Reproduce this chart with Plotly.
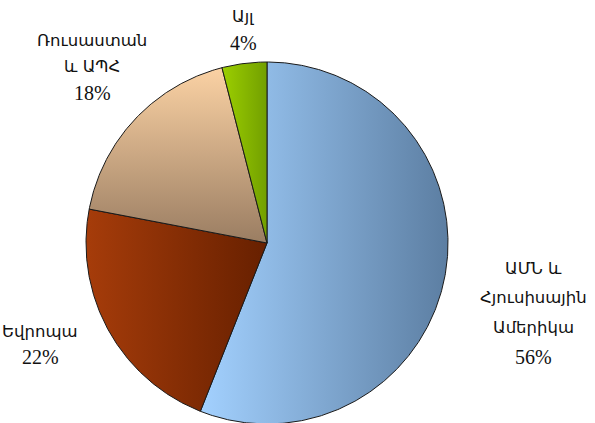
import numpy as np
import plotly.graph_objects as go

# ---- data ----
categories = ["ԱՄՆ և Հյուսիսային Ամերիկա", "Եվրոպա", "Ռուսաստան և ԱՊՀ", "Այլ"]
label_lines = [["ԱՄՆ և", "Հյուսիսային", "Ամերիկա"], ["Եվրոպա"], ["Ռուսաստան", "և ԱՊՀ"], ["Այլ"]]
values = [56, 22, 18, 4]

# ---- styles ----
gradients = [
    dict(type="horizontal", colorscale=[[0, "#A3D1FF"], [1, "#5C7EA2"]]),
    dict(type="horizontal", colorscale=[[0, "#A63C0A"], [1, "#672000"]]),
    dict(type="vertical", colorscale=[[0, "#9A7D62"], [1, "#FBD2A4"]]),
    dict(type="horizontal", colorscale=[[0, "#9CCF00"], [1, "#729F00"]]),
]
# label line pixel positions (x center, first line y, line spacing)
label_pos = [(533, 268, 29.5), (40, 331, 26), (92, 40, 26.5), (243, 17, 26)]

W, H = 595, 423
CX, CY, R = 267, 243, 181  # pixel geometry of the pie

fig = go.Figure()
total = sum(values)
start = 0.0
for cat, v, grad in zip(categories, values, gradients):
    frac = v / total
    end = start + frac * 2 * np.pi
    n = max(int(frac * 720), 8)
    th = np.linspace(start, end, n)
    xs = np.concatenate([[0], np.sin(th), [0]])
    ys = np.concatenate([[0], np.cos(th), [0]])
    fig.add_trace(go.Scatter(
        x=xs, y=ys, mode="lines", fill="toself",
        fillgradient=grad,
        line=dict(color="#1a1a1a", width=1),
        name=cat, hoverinfo="name", showlegend=False,
    ))
    start = end

font_arm = dict(family="DejaVu Sans", size=16.5, color="#111111")
font_num = dict(family="Liberation Serif", size=20, color="#111111")
for lines, v, (px, py, sp) in zip(label_lines, values, label_pos):
    all_lines = lines + [f"{round(100 * v / total)}%"]
    for i, t in enumerate(all_lines):
        is_num = i == len(all_lines) - 1
        fig.add_annotation(
            x=px / W, y=1 - (py + i * sp) / H, xref="paper", yref="paper",
            text=t, showarrow=False, xanchor="center", yanchor="middle",
            font=font_num if is_num else font_arm,
        )

fig.update_layout(
    width=W, height=H,
    margin=dict(l=0, r=0, t=0, b=0),
    paper_bgcolor="white", plot_bgcolor="white",
    xaxis=dict(range=[-CX / R, (W - CX) / R], visible=False, fixedrange=True),
    yaxis=dict(range=[-(H - CY) / R, CY / R], visible=False, fixedrange=True),
)
fig.write_html(
    "out.html",
    config={"displayModeBar": False},
    post_script="document.body.style.margin='0';document.body.style.overflow='hidden';",
)
